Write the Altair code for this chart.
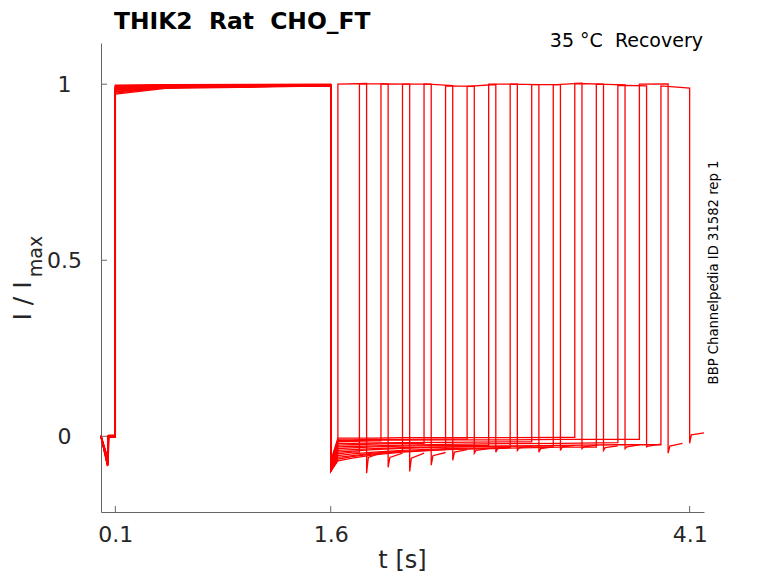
import altair as alt
import pandas as pd

# ---------------- data ----------------
sweeps = list(range(16))

# baseline before the first step and the small artefact near t = 0.05 s
baseline_v = [0.0, 0.002, -0.002, 0.001, -0.001, 0.003, 0.0, -0.003,
              0.002, 0.0, -0.002, 0.001, 0.0, 0.002, -0.001, 0.0]
pre_spike_t = [0.045, 0.046, 0.047, 0.048, 0.049, 0.050, 0.046, 0.047,
               0.048, 0.045, 0.049, 0.047, 0.046, 0.048, 0.050, 0.047]
pre_spike_v = [-0.085, -0.07, -0.08, -0.065, -0.075, -0.082, -0.06, -0.078,
               -0.072, -0.084, -0.068, -0.076, -0.08, -0.066, -0.074, -0.083]
pre_back_t = [0.049, 0.050, 0.051, 0.052, 0.053, 0.054, 0.050, 0.051,
              0.052, 0.049, 0.053, 0.051, 0.050, 0.052, 0.054, 0.051]

# first (conditioning) pulse 0.1 - 1.6 s
step1_on = 0.1
top1_t = [0.1, 0.45, 1.6]
top1_start = [0.975, 0.985, 0.99, 0.98, 0.995, 0.972, 0.988, 0.992,
              0.978, 0.985, 0.997, 0.983, 0.99, 0.98, 0.994, 0.987]
top1_mid = [0.99, 0.992, 0.995, 0.99, 0.998, 0.988, 0.994, 0.996,
            0.99, 0.993, 0.999, 0.991, 0.995, 0.99, 0.997, 0.994]
top1_end = [0.997, 0.996, 0.998, 0.996, 0.999, 0.995, 0.997, 0.998,
            0.996, 0.997, 1.0, 0.996, 0.998, 0.996, 0.999, 0.997]

# inter-pulse current (after 1.6 s), knots in time
bottom_t = [1.6, 1.65, 1.75, 1.9, 2.1, 2.4, 2.8, 3.2, 3.6, 4.0]
bottom_v = [
    [-0.100, -0.045, -0.040, -0.035, -0.030, -0.028, -0.025, -0.022, -0.020, -0.020],
    [-0.090, -0.050, -0.045, -0.040, -0.035, -0.030, -0.027, -0.024, -0.022, -0.020],
    [-0.080, -0.015, -0.014, -0.013, -0.012, -0.012, -0.011, -0.010, -0.010, -0.009],
    [-0.100, -0.060, -0.055, -0.048, -0.042, -0.036, -0.032, -0.028, -0.025, -0.023],
    [-0.085, -0.025, -0.024, -0.022, -0.020, -0.019, -0.018, -0.017, -0.016, -0.015],
    [-0.100, -0.070, -0.062, -0.053, -0.045, -0.038, -0.033, -0.030, -0.027, -0.025],
    [-0.075, -0.010, -0.010, -0.009, -0.009, -0.008, -0.008, -0.007, -0.006, -0.006],
    [-0.090, -0.035, -0.033, -0.030, -0.028, -0.026, -0.024, -0.022, -0.020, -0.019],
    [-0.100, -0.055, -0.050, -0.045, -0.040, -0.035, -0.032, -0.030, -0.028, -0.026],
    [-0.085, -0.020, -0.020, -0.019, -0.018, -0.017, -0.016, -0.015, -0.014, -0.013],
    [-0.095, -0.040, -0.038, -0.035, -0.032, -0.030, -0.028, -0.026, -0.024, -0.022],
    [-0.070, -0.005, -0.005, -0.005, -0.004, -0.004, -0.004, -0.003, -0.003, -0.003],
    [-0.100, -0.065, -0.058, -0.050, -0.043, -0.038, -0.034, -0.031, -0.029, -0.027],
    [-0.090, -0.030, -0.029, -0.027, -0.025, -0.023, -0.021, -0.020, -0.018, -0.017],
    [-0.080, -0.012, -0.012, -0.011, -0.011, -0.010, -0.010, -0.009, -0.009, -0.008],
    [-0.095, -0.045, -0.042, -0.038, -0.034, -0.031, -0.028, -0.026, -0.024, -0.022],
]

# recovery (test) pulse of each sweep
rise2 = [1.65, 1.80, 1.95, 2.10, 2.25, 2.40, 2.55, 2.70,
         2.85, 3.00, 3.15, 3.30, 3.45, 3.60, 3.75, 3.90]
fall2 = [1.85, 2.00, 2.15, 2.30, 2.45, 2.60, 2.75, 2.90,
         3.05, 3.20, 3.35, 3.50, 3.65, 3.80, 3.95, 4.10]
top2_start = [1.0, 1.001, 1.001, 1.0, 1.001, 0.995, 0.994, 1.0,
              1.0, 0.999, 0.998, 1.002, 1.0, 0.997, 1.0, 0.995]
top2_end = [1.002, 1.001, 1.0, 1.0, 0.996, 0.994, 0.999, 1.0,
            0.999, 0.999, 1.003, 1.0, 0.998, 0.995, 1.001, 0.989]

# tail current after the test pulse
tail_a_t = [1.862, 2.012, 2.162, 2.312, 2.462, 2.612, 2.762, 2.912,
            3.062, 3.212, 3.362, 3.512, 3.662, 3.812, 3.962, 4.112]
tail_b_t = [1.95, 2.10, 2.25, 2.40, 2.55, 2.70, 2.85, 3.00,
            3.15, 3.30, 3.45, 3.60, 3.75, 3.90, 4.05, 4.20]
tail_spike = [-0.105, -0.088, -0.100, -0.082, -0.068, -0.048, -0.045, -0.040,
              -0.045, -0.040, -0.035, -0.040, -0.035, -0.030, -0.048, -0.020]
tail_a = [-0.060, -0.060, -0.062, -0.055, -0.045, -0.040, -0.035, -0.033,
          -0.035, -0.030, -0.030, -0.032, -0.030, -0.028, -0.028, 0.004]
tail_b = [-0.047, -0.048, -0.048, -0.046, -0.038, -0.035, -0.030, -0.028,
          -0.030, -0.026, -0.025, -0.027, -0.024, -0.022, -0.020, 0.010]

x_ticks = [0.1, 1.6, 4.1]
y_ticks = [0, 0.5, 1]

# ---------------- build the trace table ----------------
rows = []
for k in sweeps:
    pts = [
        (0.0, baseline_v[k]),
        (pre_spike_t[k], pre_spike_v[k]),
        (pre_back_t[k], baseline_v[k]),
        (step1_on, baseline_v[k]),
        (top1_t[0], top1_start[k]),
        (top1_t[1], top1_mid[k]),
        (top1_t[2], top1_end[k]),
    ]
    last = None
    for tt, vv in zip(bottom_t, bottom_v[k]):
        if tt <= rise2[k]:
            pts.append((tt, vv))
            last = (tt, vv)
    if last[0] < rise2[k]:
        pts.append((rise2[k], last[1]))
    pts += [
        (rise2[k], top2_start[k]),
        (fall2[k], top2_end[k]),
        (fall2[k], tail_spike[k]),
        (tail_a_t[k], tail_a[k]),
        (tail_b_t[k], tail_b[k]),
    ]
    for i, (tt, vv) in enumerate(pts):
        rows.append({"sweep": k, "i": i, "t": tt, "v": vv})
df = pd.DataFrame(rows)

# ---------------- chart ----------------
FONT = "DejaVu Sans"
W, H = 603, 469
xscale = alt.Scale(domain=[0, 4.2], nice=False, zero=False)
yscale = alt.Scale(domain=[-0.215, 1.117], nice=False, zero=False)
xaxis = alt.Axis(values=x_ticks, title=None, ticks=False, tickSize=0, grid=False,
                 domainColor="#666666", labelFontSize=22, labelColor="#262626",
                 labelPadding=12, labelFont=FONT, format=".2~g", labelFlush=False)
yaxis = alt.Axis(values=y_ticks, title=None, ticks=False, tickSize=0, grid=False,
                 domainColor="#666666", labelFontSize=22, labelColor="#262626",
                 labelPadding=37, labelAlign="center", labelBaseline="middle",
                 labelFont=FONT, format=".2~g", labelFlush=False)

traces = alt.Chart(df).mark_line(color="#ff0000", strokeWidth=1.3).encode(
    x=alt.X("t:Q", scale=xscale, axis=xaxis),
    y=alt.Y("v:Q", scale=yscale, axis=yaxis),
    detail="sweep:N",
    order="i:Q",
)

xt = alt.Chart(pd.DataFrame({"t": x_ticks})).mark_rule(color="#666666", strokeWidth=1).encode(
    x=alt.X("t:Q", scale=xscale, axis=xaxis),
    y=alt.value(H), y2=alt.value(H - 6),
)
yt = alt.Chart(pd.DataFrame({"v": y_ticks})).mark_rule(color="#666666", strokeWidth=1).encode(
    y=alt.Y("v:Q", scale=yscale, axis=yaxis),
    x=alt.value(0), x2=alt.value(6),
)


def label(text, x, y, size, angle=0, align="center", weight="normal", color="#262626"):
    return alt.Chart(pd.DataFrame({"a": [0]})).mark_text(
        text=text, fontSize=size, angle=angle, align=align, baseline="alphabetic",
        fontWeight=weight, color=color, font=FONT,
    ).encode(x=alt.value(x), y=alt.value(y))


texts = [
    label("THIK2\u00a0\u00a0Rat\u00a0\u00a0CHO_FT", 13, -14, 23.4, align="left", weight="bold", color="#000000"),
    label("35 °C\u00a0\u00a0Recovery", 602, 4, 19, align="right", color="#000000"),
    label("BBP Channelpedia ID 31582 rep 1", 617, 229.5, 13.2, angle=270, color="#000000"),
    label("t [s]", 301.5, 525, 24),
    label("I / I", -70, 258, 25, angle=270),
    label("max", -59, 213.5, 19, angle=270),
]

chart = alt.layer(traces, xt, yt, *texts).properties(
    width=W, height=H,
    autosize=alt.AutoSizeParams(type="none"),
    padding={"left": 93, "top": 35, "right": 58, "bottom": 61},
).configure_view(stroke="transparent")

chart.save("out.html", embed_options={"renderer": "svg", "actions": False})
